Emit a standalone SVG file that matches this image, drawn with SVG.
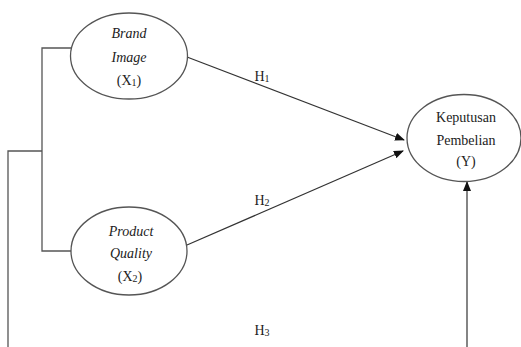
<svg xmlns="http://www.w3.org/2000/svg" width="521" height="347" viewBox="0 0 521 347">
  <style>
    .node { fill: #ffffff; stroke: #555555; stroke-width: 1.3; }
    .lbl { font-family: "Liberation Serif", "Times New Roman", serif; font-size: 14px; fill: #222222; text-anchor: middle; }
    .it { font-style: italic; }
    .sub { font-size: 10px; }
    .wire { fill: none; stroke: #555555; stroke-width: 1.3; }
    .arrow { fill: none; stroke: #333333; stroke-width: 1.2; marker-end: url(#head); }
  </style>
  <defs>
    <marker id="head" markerWidth="10" markerHeight="8" refX="9" refY="4" orient="auto" markerUnits="userSpaceOnUse">
      <path d="M0,0 L10,4 L0,8 z" fill="#111111"/>
    </marker>
  </defs>

  <rect width="521" height="347" fill="#ffffff"/>

  <g id="connectors">
    <!-- bracket joining the two independent variables -->
    <polyline class="wire" points="71,48 42,48 42,251 71,251"/>
    <polyline class="wire" points="42,151 8,151 8,347"/>
    <!-- H1 and H2 paths -->
    <line class="arrow" x1="187" y1="57" x2="404" y2="140"/>
    <line class="arrow" x1="187" y1="245" x2="403" y2="151"/>
    <!-- H3 simultaneous path -->
    <line class="arrow" x1="467" y1="347" x2="467" y2="182"/>
    <text class="lbl" x="262" y="81">H<tspan class="sub" dy="1">1</tspan></text>
    <text class="lbl" x="262" y="205">H<tspan class="sub" dy="1">2</tspan></text>
    <text class="lbl" x="262" y="335">H<tspan class="sub" dy="1">3</tspan></text>
  </g>

  <g id="brand-image">
    <ellipse class="node" cx="129" cy="56" rx="58.5" ry="43"/>
    <text class="lbl it" x="129" y="38">Brand</text>
    <text class="lbl it" x="129" y="62">Image</text>
    <text class="lbl" x="129" y="85">(X<tspan class="sub" dy="1">1</tspan><tspan dy="-1">)</tspan></text>
  </g>

  <g id="product-quality">
    <ellipse class="node" cx="129" cy="251" rx="58" ry="44"/>
    <text class="lbl it" x="131" y="236">Product</text>
    <text class="lbl it" x="131" y="258">Quality</text>
    <text class="lbl" x="130" y="281">(X<tspan class="sub" dy="1">2</tspan><tspan dy="-1">)</tspan></text>
  </g>

  <g id="keputusan-pembelian">
    <ellipse class="node" cx="464" cy="138" rx="57" ry="43.5"/>
    <text class="lbl" x="466" y="122">Keputusan</text>
    <text class="lbl" x="466" y="145">Pembelian</text>
    <text class="lbl" x="466" y="166">(Y)</text>
  </g>
</svg>
